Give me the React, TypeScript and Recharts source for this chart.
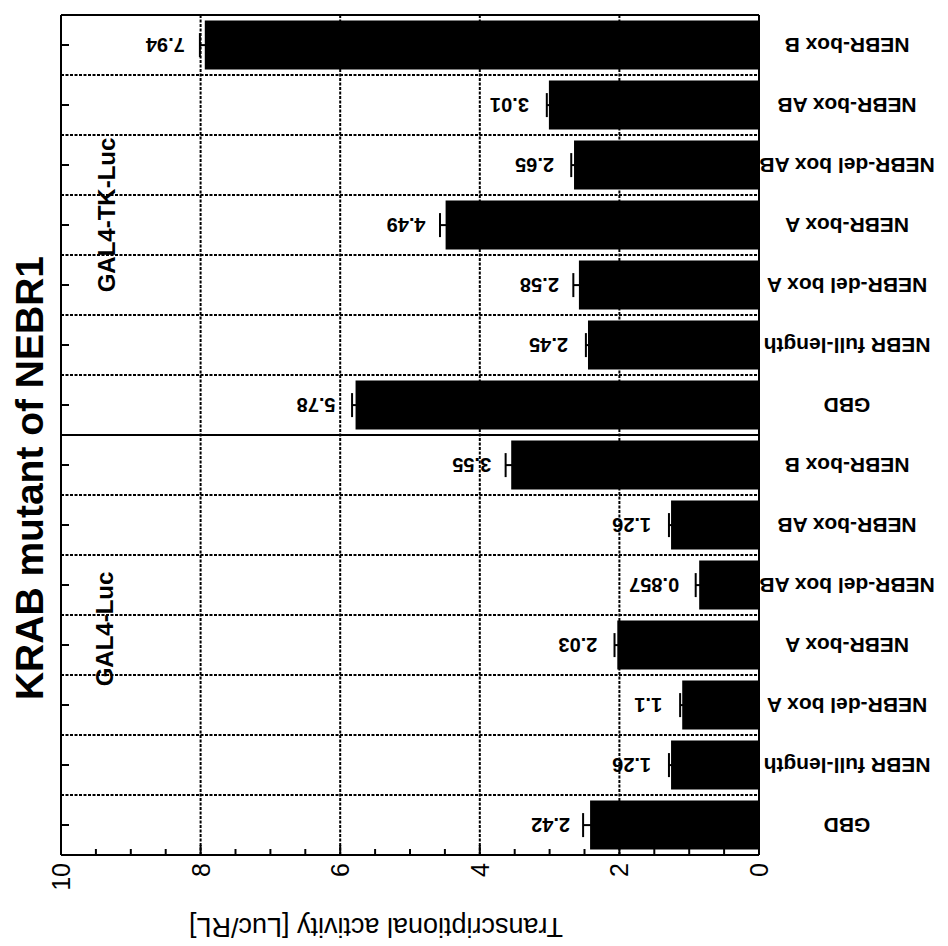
import { Bar, BarChart, CartesianGrid, ErrorBar, LabelList, ReferenceLine, XAxis, YAxis } from "recharts"

const categories = [
  "GBD",
  "NEBR full-length",
  "NEBR-del box A",
  "NEBR-box A",
  "NEBR-del box AB",
  "NEBR-box AB",
  "NEBR-box B",
  "GBD",
  "NEBR full-length",
  "NEBR-del box A",
  "NEBR-box A",
  "NEBR-del box AB",
  "NEBR-box AB",
  "NEBR-box B",
]
const activity = [2.42, 1.26, 1.1, 2.03, 0.857, 1.26, 3.55, 5.78, 2.45, 2.58, 4.49, 2.65, 3.01, 7.94]
const errors = [0.1, 0.03, 0.03, 0.04, 0.05, 0.03, 0.08, 0.05, 0.03, 0.08, 0.08, 0.04, 0.03, 0.07]
const valueTicks = [0, 0.5, 1, 1.5, 2, 2.5, 3, 3.5, 4, 4.5, 5, 5.5, 6, 6.5, 7, 7.5, 8, 8.5, 9, 9.5, 10]
const gridValues = [2, 4, 6, 8]
const categoryBoundaries = [1, 2, 3, 4, 5, 6, 8, 9, 10, 11, 12, 13]
const groupBoundary = [7]
const groupLabels = ["GAL4-Luc", "GAL4-TK-Luc"]

const data = categories.map((name, i) => ({ name, value: activity[i], err: errors[i] }))

const FONT = "Arial, 'Liberation Sans', Helvetica, sans-serif"

// the chart is drawn upright and the whole thing is turned a quarter turn
// counter-clockwise, like the scanned figure
const W = 946
const H = 948

const LeftTick = (props: any) => {
  const { x, y, payload } = props
  const major = payload.value % 2 === 0
  return (
    <g>
      <line x1={x} y1={y} x2={x + (major ? 10 : 6)} y2={y} stroke="#000" strokeWidth={2} />
      {major && (
        <text x={x - 8} y={y} textAnchor="end" dominantBaseline="central" fontSize={25} fontFamily={FONT} fill="#000">
          {payload.value}
        </text>
      )}
    </g>
  )
}

const RightTick = (props: any) => {
  const { x, y, payload } = props
  const major = payload.value % 2 === 0
  return <line x1={x} y1={y} x2={x - (major ? 10 : 6)} y2={y} stroke="#000" strokeWidth={2} />
}

const TopTick = (props: any) => {
  const { x, y } = props
  return <line x1={x} y1={y} x2={x} y2={y + 8} stroke="#000" strokeWidth={2} />
}

const CategoryTick = (props: any) => {
  const { x, y, payload } = props
  const cy = y + 88
  return (
    <text
      x={x}
      y={cy}
      transform={`rotate(-90, ${x}, ${cy})`}
      textAnchor="middle"
      dominantBaseline="central"
      fontSize={21}
      fontWeight="bold"
      fontFamily={FONT}
      fill="#000"
    >
      {payload.value}
    </text>
  )
}

const ValueLabel = (props: any) => {
  const { x, y, width, value } = props
  const cx = x + width / 2
  const cy = y - 20
  return (
    <text
      x={cx}
      y={cy}
      transform={`rotate(-90, ${cx}, ${cy})`}
      textAnchor="start"
      dominantBaseline="central"
      fontSize={20}
      fontWeight="bold"
      fontFamily={FONT}
      fill="#000"
    >
      {value}
    </text>
  )
}

const boundaryLines = (list: number[]) => ({ offset }: any) =>
  list.map((b) => offset.left + (offset.width * b) / categories.length)

export default function App() {
  return (
    <div style={{ position: "absolute", left: 0, top: 0, width: H, height: W, overflow: "hidden", background: "#fff" }}>
      <div
        style={{
          position: "absolute",
          left: 0,
          top: 0,
          width: W,
          height: H,
          transformOrigin: "0 0",
          transform: `translateY(${W}px) rotate(-90deg)`,
        }}
      >
        <BarChart
          width={W}
          height={H}
          data={data}
          margin={{ top: 51, right: 5, bottom: 39, left: 31 }}
          barCategoryGap="9%"
        >
          <CartesianGrid
            horizontal={false}
            verticalCoordinatesGenerator={boundaryLines(categoryBoundaries)}
            stroke="#000"
            strokeWidth={2}
            strokeDasharray="3 1.5"
          />
          <CartesianGrid
            horizontal={false}
            verticalCoordinatesGenerator={boundaryLines(groupBoundary)}
            stroke="#000"
            strokeWidth={2}
          />
          <XAxis
            xAxisId="cat"
            dataKey="name"
            height={150}
            interval={0}
            tickSize={0}
            tickMargin={0}
            tickLine={false}
            axisLine={{ stroke: "#000", strokeWidth: 2 }}
            tick={<CategoryTick />}
          />
          <XAxis
            xAxisId="top"
            dataKey="name"
            orientation="top"
            height={10}
            interval={0}
            tickSize={0}
            tickMargin={0}
            tickLine={false}
            axisLine={{ stroke: "#000", strokeWidth: 2 }}
            tick={<TopTick />}
          />
          <YAxis
            yAxisId="left"
            domain={[0, 10]}
            ticks={valueTicks}
            interval={0}
            width={60}
            tickSize={0}
            tickMargin={0}
            tickLine={false}
            axisLine={{ stroke: "#000", strokeWidth: 2 }}
            tick={<LeftTick />}
          />
          <YAxis
            yAxisId="right"
            orientation="right"
            domain={[0, 10]}
            ticks={valueTicks}
            interval={0}
            width={10}
            tickSize={0}
            tickMargin={0}
            tickLine={false}
            axisLine={{ stroke: "#000", strokeWidth: 2 }}
            tick={<RightTick />}
          />
          {gridValues.map((v) => (
            <ReferenceLine
              key={`g${v}`}
              xAxisId="cat"
              yAxisId="left"
              y={v}
              stroke="#000"
              strokeWidth={2}
              strokeDasharray="3 1.5"
            />
          ))}
          <Bar xAxisId="cat" yAxisId="left" dataKey="value" fill="#000" isAnimationActive={false}>
            <ErrorBar dataKey="err" width={12} strokeWidth={2} stroke="#000" isAnimationActive={false} />
            <LabelList dataKey="value" content={<ValueLabel />} />
          </Bar>
        </BarChart>
        <svg
          width={W}
          height={H}
          style={{ position: "absolute", left: 0, top: 0, pointerEvents: "none" }}
          fontFamily={FONT}
        >
          <text x={468} y={43} textAnchor="middle" fontSize={39} fontWeight="bold" fill="#000">
            KRAB mutant of NEBR1
          </text>
          <text x={28} y={376} transform="rotate(-90, 28, 376)" textAnchor="middle" fontSize={27} fill="#000">
            Transcriptional activity [Luc/RL]
          </text>
          <text x={317} y={113} textAnchor="middle" fontSize={24} fontWeight="bold" fill="#000">
            {groupLabels[0]}
          </text>
          <text x={731} y={115} textAnchor="middle" fontSize={24} fontWeight="bold" fill="#000">
            {groupLabels[1]}
          </text>
        </svg>
      </div>
    </div>
  )
}
